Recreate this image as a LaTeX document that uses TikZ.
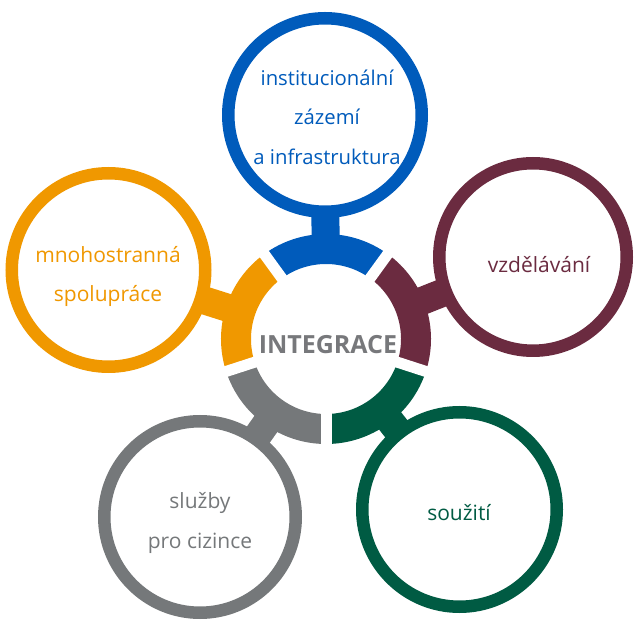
\documentclass[tikz,border=0pt]{standalone}
\usepackage{fontspec}
\setmainfont{Open Sans}
\usetikzlibrary{backgrounds,calc}
\definecolor{cblue}{HTML}{005BBB}
\definecolor{cmaroon}{HTML}{6B2B40}
\definecolor{cgreen}{HTML}{005B43}
\definecolor{cgray}{HTML}{75787A}
\definecolor{corange}{HTML}{F09800}
\definecolor{ctitle}{HTML}{77787B}
\begin{document}
\begin{tikzpicture}[x=1pt,y=1pt,
  stem/.style={line width=28pt},
  ringseg/.style={line width=30pt},
  gapcut/.style={line width=11pt, white},
  bubble/.style={circle, fill=white, line width=12.5pt, inner sep=0pt, minimum size=#1},
  lab/.style={font=\fontsize{21}{39.5}\selectfont, align=center, inner sep=0pt}]
\useasboundingbox (0,0) rectangle (635,619);
\coordinate (C) at (326,280);
% outer circles
\node[bubble=193.5pt, draw=cblue]   (blue)   at (325,504)   {};
\node[bubble=187.5pt, draw=cmaroon] (maroon) at (533,362)   {};
\node[bubble=194.5pt, draw=cgreen]  (green)  at (459.5,109.5) {};
\node[bubble=191.5pt, draw=cgray]   (gray)   at (200,102)   {};
\node[bubble=193.5pt, draw=corange] (orange) at (108.5,349) {};
% stems
\begin{scope}[on background layer]
  \draw[stem, cblue]   ($(C)!95pt!(blue)$)   -- (blue.center);
  \draw[stem, cmaroon] ($(C)!95pt!(maroon)$) -- (maroon.center);
  \draw[stem, cgreen]  ($(C)!95pt!(green)$)  -- (green.center);
  \draw[stem, cgray]   ($(C)!95pt!(gray)$)   -- (gray.center);
  \draw[stem, corange] ($(C)!95pt!(orange)$) -- (orange.center);
\end{scope}
% central ring
\draw[ringseg, cblue]   ([shift={(54:90)}]C)   arc[start angle=54,  end angle=126, radius=90];
\draw[ringseg, cmaroon] ([shift={(-18:90)}]C)  arc[start angle=-18, end angle=54,  radius=90];
\draw[ringseg, cgreen]  ([shift={(-90:90)}]C)  arc[start angle=-90, end angle=-18, radius=90];
\draw[ringseg, cgray]   ([shift={(198:90)}]C)  arc[start angle=198, end angle=270, radius=90];
\draw[ringseg, corange] ([shift={(126:90)}]C)  arc[start angle=126, end angle=198, radius=90];
\foreach \a in {54,126,198,270,342}
  \draw[gapcut] ([shift={(\a:68)}]C) -- ([shift={(\a:112)}]C);
% labels
\node[font=\fontsize{25}{30}\selectfont\bfseries, text=ctitle, anchor=base, inner sep=0pt] (title) at (328,265) {INTEGRACE};
\node[lab, font=\fontsize{20.3}{39.5}\selectfont, text=cblue] (tblue) at (327,502) {institucionální\\zázemí\\a infrastruktura};
\node[lab, text=cmaroon, anchor=base] (tmaroon) at (539,346) {vzdělávání};
\node[lab, text=cgreen,  anchor=base] (tgreen)  at (459,98)  {soužití};
\node[lab, text=cgray]   (tgray)   at (200,96)    {služby\\pro cizince};
\node[lab, text=corange] (torange) at (108,342.5) {mnohostranná\\spolupráce};
\end{tikzpicture}
\end{document}
